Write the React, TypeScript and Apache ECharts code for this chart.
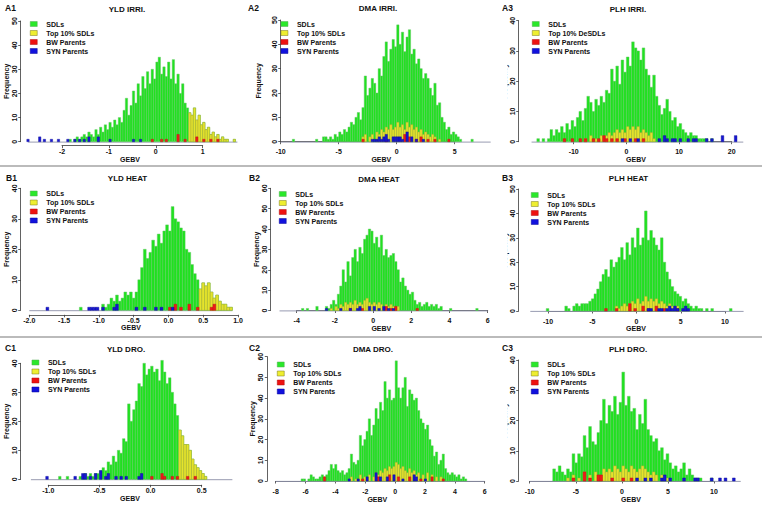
import React, { useEffect, useRef } from "react";
import * as echarts from "echarts";

// ---------------- DATA ----------------
// A1 YLD IRRI.
const a1Start = -2.75;
const a1Bin = 0.05;
const a1Sdl = [0,0,0,0,0,0,0,0,0,0, 0,0,0,0,0,0,0,0,1,0, 1,2,1,2,3,2,4,3,2,5, 3,6,4,7,5,8,6,9,7,10, 8,13,18,11,15,21,16,24,19,27, 22,29,24,30,26,33,35,28,31,27, 33,26,34,24,28,20,24,16,14,12, 11,14,9,11,7,8,5,6,3,4, 2,3,1,2,1,1,0,0,1];
const a1Top = [[0.7,12],[0.75,11],[0.8,14],[0.85,9],[0.9,11],[0.95,7],[1.0,8],[1.05,5],[1.1,6],[1.15,3],[1.2,4],[1.25,2],[1.3,3],[1.35,1],[1.4,2],[1.45,1],[1.5,1],[1.65,1]];
const a1Bw = [[-0.1,1],[0.1,1],[0.2,1],[0.45,3],[0.6,1],[0.85,2],[1.0,1],[1.15,1],[1.3,1]];
const a1Syn = [[-2.75,1],[-2.5,2],[-2.4,1],[-2.25,1],[-2.1,1],[-1.9,1],[-1.75,1],[-1.65,1],[-1.55,1],[-1.45,2],[-1.25,2],[-1.0,1],[-0.5,1],[-0.35,1]];
const a1Ticks = [-2, -1, 0, 1];

// A2 DMA IRRI.
const a2Start = -9.0;
const a2Bin = 0.2;
const a2Sdl = [1,0,0,0,0,0,0,0,0,0, 1,0,0,2,2,1,2,1,3,2, 4,3,5,4,6,8,7,10,12,9, 14,27,19,22,26,24,20,30,27,35, 41,33,38,42,39,48,40,45,37,43, 46,36,38,32,34,30,26,28,26,22, 19,24,15,16,10,8,5,6,3,4, 3,2,1,0,0,0,0,1];
const a2Top = [[-3.0,2],[-2.8,3],[-2.4,2],[-2.2,3],[-1.8,4],[-1.6,3],[-1.4,5],[-1.2,4],[-1.0,6],[-0.8,5],[-0.6,7],[-0.4,5],[-0.2,6],[0.0,8],[0.2,6],[0.4,7],[0.6,5],[0.8,8],[1.0,6],[1.2,7],[1.4,5],[1.6,6],[1.8,4],[2.0,5],[2.2,3],[2.4,4],[2.6,3],[2.8,2],[3.0,3],[3.2,2],[3.6,1]];
const a2Bw = [[-3.0,1],[-1.0,1],[0.6,3],[1.0,2],[1.6,1],[2.0,2],[2.6,1],[3.2,1],[4.4,1]];
const a2Syn = [[-2.2,1],[-2.0,1],[-1.8,1],[-1.6,2],[-1.4,1],[-1.2,2],[-1.0,3],[-0.8,1],[-0.4,2],[-0.2,2],[0.0,2],[0.2,2],[0.4,1],[0.8,4],[1.2,2],[1.6,1],[2.2,1]];
const a2Ticks = [-10, -5, 0, 5];

// A3 PLH IRRI.
const a3Start = -17.5;
const a3Bin = 0.5;
const a3Sdl = [0,1,0,1,0,1,4,2,4,3, 5,3,6,4,7,5,8,10,7,11, 15,13,10,14,12,15,13,17,16,24, 20,25,19,27,23,28,25,33,31,30, 27,31,24,22,18,22,15,12,9,11, 14,10,7,8,5,6,4,3,2,3, 2,2,1,1,1,1,0,1];
const a3Top = [[-8.0,1],[-7.0,2],[-6.0,1],[-5.0,2],[-4.0,2],[-3.5,3],[-3.0,2],[-2.5,3],[-2.0,4],[-1.5,3],[-1.0,4],[-0.5,3],[0.0,5],[0.5,4],[1.0,5],[1.5,4],[2.0,5],[2.5,3],[3.0,4],[3.5,3],[4.0,2],[4.5,3],[5.0,1]];
const a3Bw = [[-12.0,1],[-10.5,1],[-9.0,1],[-8.0,1],[-6.5,1],[-5.5,1],[-4.5,2],[-4.0,1],[-3.0,1],[-2.0,1],[-0.5,1],[1.5,1],[3.0,1]];
const a3Syn = [[-1.0,1],[0.5,1],[2.0,1],[6.0,1],[7.0,2],[7.5,1],[8.5,1],[9.0,1],[10.0,1],[11.5,1],[12.5,1],[13.0,1],[15.0,1],[16.0,1],[18.0,2],[20.5,2]];
const a3Ticks = [-10, 0, 10, 20];

// B1 YLD HEAT
const b1Start = -1.8;
const b1Bin = 0.04;
const b1Sdl = [0,0,0,0,0,0,0,0,0,0, 0,0,0,1,0,0,0,0,0,0, 0,2,1,2,4,3,5,3,4,6, 5,6,4,6,10,14,20,17,19,23, 21,25,22,26,28,26,34,30,29,27, 26,20,19,15,12,10,7,9,8,9, 6,4,5,3,2,2,1,1];
const b1Top = [[0.44,7],[0.48,9],[0.52,8],[0.56,9],[0.6,6],[0.64,4],[0.68,5],[0.72,3],[0.76,2],[0.8,2],[0.84,1],[0.88,1]];
const b1Bw = [[0.0,1],[0.08,2],[0.16,1],[0.28,2],[0.4,1],[0.6,1],[0.64,2]];
const b1Syn = [[-1.76,1],[-1.16,1],[-1.12,1],[-1.08,1],[-1.04,1],[-0.96,1],[-0.8,1],[-0.76,2],[-0.48,1],[-0.36,1],[-0.2,1],[-0.12,1],[0.04,1]];
const b1Ticks = [-2.0, -1.5, -1.0, -0.5, 0.0, 0.5, 1.0];

// B2 DMA HEAT
const b2Start = -3.75;
const b2Bin = 0.125;
const b2Sdl = [1,0,1,0,0,0,2,0,0,0, 2,1,3,5,3,8,12,20,14,24, 17,26,30,24,31,28,35,37,40,39, 33,36,31,37,27,30,26,27,28,24, 20,14,16,12,10,8,9,5,3,4, 2,3,4,2,3,2,3,1,2,0, 0,0,1,0,0,0,0,0,0,0, 0,0,0,1];
const b2Top = [[-2.25,1],[-2.0,2],[-1.875,1],[-1.75,3],[-1.625,2],[-1.5,4],[-1.375,3],[-1.25,4],[-1.125,3],[-1.0,5],[-0.875,3],[-0.75,4],[-0.625,3],[-0.5,5],[-0.375,6],[-0.25,4],[-0.125,3],[0.0,4],[0.125,3],[0.25,4],[0.375,3],[0.5,2],[0.625,3],[0.75,2],[0.875,3],[1.0,2],[1.125,1],[1.25,2]];
const b2Bw = [[-1.25,1],[-0.625,1],[0.625,2],[0.875,1],[1.125,2],[2.25,1]];
const b2Syn = [[-2.5,1],[-1.75,1],[-1.25,1],[-0.875,1],[-0.75,2],[-0.25,2],[0.0,2],[0.25,1],[0.5,2],[0.75,1],[1.0,1]];
const b2Ticks = [-4, -2, 0, 2, 4, 6];

// B3 PLH HEAT
const b3Start = -10.2;
const b3Bin = 0.3;
const b3Sdl = [1,0,0,0,0,0,0,2,1,0, 2,3,2,3,3,3,4,5,7,9, 12,15,17,14,21,18,20,22,26,21, 28,23,30,26,34,27,30,41,29,33, 30,27,25,30,20,16,13,10,8,7, 6,4,5,3,2,1,2,1,1,0, 1,0,1,0,0,0,0,0,0,1];
const b3Top = [[-2.4,2],[-2.1,1],[-1.8,2],[-1.5,3],[-1.2,2],[-0.9,3],[-0.6,4],[-0.3,3],[0.0,5],[0.3,3],[0.6,4],[0.9,6],[1.2,4],[1.5,5],[1.8,4],[2.1,5],[2.4,3],[2.7,4],[3.0,3],[3.3,2],[3.6,3],[3.9,2],[4.2,1],[4.5,2]];
const b3Bw = [[-3.6,1],[-2.4,1],[-0.9,3],[-0.3,1],[0.6,2],[1.2,1],[2.1,2],[3.0,1],[4.5,1]];
const b3Syn = [[1.2,1],[1.5,1],[2.4,1],[2.7,1],[3.3,1],[3.6,2],[3.9,1],[4.2,2],[4.5,1],[5.1,1],[5.4,2],[5.7,1]];
const b3Ticks = [-10, -5, 0, 5, 10];

// C1 YLD DRO.
const c1Start = -1.05;
const c1Bin = 0.025;
const c1Sdl = [0,0,0,0,0,0,1,0,0,1, 0,0,0,0,1,1,2,1,2,1, 2,2,3,4,3,6,5,8,6,10, 9,14,13,26,20,24,27,33,32,40, 36,38,39,37,38,34,41,37,33,35, 30,26,22,17,15,12,12,10,7,5, 4,3,2,1];
const c1Top = [[0.275,17],[0.3,15],[0.325,12],[0.35,12],[0.375,10],[0.4,7],[0.425,5],[0.45,4],[0.475,3],[0.5,2],[0.525,1]];
const c1Bw = [[0.0,1],[0.1,2],[0.125,1],[0.2,1],[0.25,1],[0.35,1],[0.425,1]];
const c1Syn = [[-1.025,1],[-0.75,1],[-0.675,2],[-0.65,2],[-0.6,1],[-0.55,2],[-0.5,3],[-0.45,1],[-0.425,2],[-0.35,1],[-0.3,1],[-0.25,1],[-0.125,1],[-0.1,2]];
const c1Ticks = [-1.0, -0.5, 0.0, 0.5];

// C2 DMA DRO.
const c2Start = -6.3;
const c2Bin = 0.15;
const c2Sdl = [1,1,0,1,3,2,1,1,2,3, 2,3,5,8,6,8,5,4,5,3, 4,6,13,9,8,10,22,17,20,24, 30,22,27,35,30,38,34,48,40,44, 39,40,58,45,40,45,50,36,44,42, 39,40,34,30,28,25,27,20,17,12, 14,8,10,13,6,4,3,4,3,2, 3,1,2,1];
const c2Top = [[-3.0,2],[-2.7,1],[-2.4,3],[-2.1,2],[-1.8,3],[-1.5,2],[-1.35,4],[-1.2,3],[-1.05,5],[-0.9,4],[-0.75,6],[-0.6,5],[-0.45,7],[-0.3,6],[-0.15,7],[0.0,9],[0.15,8],[0.3,6],[0.45,7],[0.6,5],[0.75,4],[0.9,6],[1.05,4],[1.2,5],[1.35,3],[1.5,4],[1.8,3],[2.1,4],[2.4,3],[2.7,2],[3.0,2]];
const c2Bw = [[-4.8,2],[-2.25,1],[-1.2,2],[-0.45,3],[0.15,2],[0.9,2],[1.65,1],[2.4,2],[3.15,1]];
const c2Syn = [[-3.15,1],[-2.55,1],[-1.95,2],[-1.35,4],[-1.05,2],[-0.6,2],[-0.15,3],[0.45,1],[1.2,3],[1.35,2],[1.95,1]];
const c2Ticks = [-8, -6, -4, -2, 0, 2, 4, 6];

// C3 PLH DRO.
const c3Start = -7.5;
const c3Bin = 0.3;
const c3Sdl = [4,3,5,3,2,4,3,9,6,9, 8,15,11,18,13,12,16,20,27,19, 25,23,28,22,26,36,25,28,23,24, 17,22,19,27,17,15,13,14,10,11, 7,9,6,4,5,3,4,6,2,4, 2,1,1,1,0,0,0,1];
const c3Top = [[-6.0,1],[-5.4,2],[-4.8,1],[-4.2,3],[-3.6,2],[-3.0,3],[-2.4,2],[-2.1,4],[-1.8,3],[-1.5,4],[-1.2,3],[-0.9,5],[-0.6,4],[-0.3,3],[0.0,5],[0.3,4],[0.6,3],[0.9,5],[1.2,4],[1.5,3],[1.8,4],[2.1,5],[2.4,4],[2.7,3],[3.0,2],[3.3,3],[3.6,2],[4.2,2],[4.8,1]];
const c3Bw = [[-5.4,1],[-4.2,3],[-3.6,1],[-2.7,2],[-2.4,2],[-1.2,1],[0.0,1],[0.9,1]];
const c3Syn = [[1.5,1],[2.4,1],[3.0,1],[4.2,1],[4.5,2],[5.1,1],[6.6,1],[7.8,1],[8.1,1],[9.6,1],[10.5,1],[11.1,1],[12.0,1]];
const c3Ticks = [-10, -5, 0, 5, 10];

const yMaxes = [50, 50, 40, 40, 60, 50, 40, 60, 40];
const titles = ["YLD IRRI.", "DMA IRRI.", "PLH IRRI.", "YLD HEAT", "DMA HEAT", "PLH HEAT", "YLD DRO.", "DMA DRO.", "PLH DRO."];
const panelLabels = ["A1", "A2", "A3", "B1", "B2", "B3", "C1", "C2", "C3"];
const legendNames = ["SDLs", "Top 10% SDLs", "BW Parents", "SYN Parents"];
const legendNamesA3 = ["SDLs", "Top 10% DeSDLs", "BW Parents", "SYN Parents"];

const panels = [
  { start: a1Start, bin: a1Bin, sdl: a1Sdl, top: a1Top, bw: a1Bw, syn: a1Syn, ticks: a1Ticks, dec: 0 },
  { start: a2Start, bin: a2Bin, sdl: a2Sdl, top: a2Top, bw: a2Bw, syn: a2Syn, ticks: a2Ticks, dec: 0 },
  { start: a3Start, bin: a3Bin, sdl: a3Sdl, top: a3Top, bw: a3Bw, syn: a3Syn, ticks: a3Ticks, dec: 0 },
  { start: b1Start, bin: b1Bin, sdl: b1Sdl, top: b1Top, bw: b1Bw, syn: b1Syn, ticks: b1Ticks, dec: 1 },
  { start: b2Start, bin: b2Bin, sdl: b2Sdl, top: b2Top, bw: b2Bw, syn: b2Syn, ticks: b2Ticks, dec: 0 },
  { start: b3Start, bin: b3Bin, sdl: b3Sdl, top: b3Top, bw: b3Bw, syn: b3Syn, ticks: b3Ticks, dec: 0 },
  { start: c1Start, bin: c1Bin, sdl: c1Sdl, top: c1Top, bw: c1Bw, syn: c1Syn, ticks: c1Ticks, dec: 1 },
  { start: c2Start, bin: c2Bin, sdl: c2Sdl, top: c2Top, bw: c2Bw, syn: c2Syn, ticks: c2Ticks, dec: 0 },
  { start: c3Start, bin: c3Bin, sdl: c3Sdl, top: c3Top, bw: c3Bw, syn: c3Syn, ticks: c3Ticks, dec: 0 },
];

// ---------------- LAYOUT (pixels) ----------------
const layouts = [
  { left: 20.7, right: 239.3, y0: 141.7, yTop: 21, t0: 62, t1: 202.7, off: 4, lbl: 6, freqX: 6.7, gebvY: 160, base: [-2.72, 1.74], legL: 30, legT: 20, titleX: 127, titleY: 9, labX: 5, labY: 8 },
  { left: 280.7, right: 482, y0: 141.7, yTop: 20, t0: 280.7, t1: 454.7, off: 0, lbl: 9.5, freqX: 258, gebvY: 160, base: [-10, 8.1], legL: 280.7, legT: 20, titleX: 378, titleY: 8.5, labX: 248, labY: 8 },
  { left: 518.7, right: 753.3, y0: 141.7, yTop: 20.7, t0: 573.7, t1: 731.7, off: 0, lbl: 9.5, freqX: 509, gebvY: 160, base: [-18, 22.2], legL: 532, legT: 20, titleX: 628, titleY: 9.5, labX: 502, labY: 8 },
  { left: 20.7, right: 241.3, y0: 310.3, yTop: 188.3, t0: 29.3, t1: 238, off: 4.5, lbl: 5.5, freqX: 6.7, gebvY: 328.3, base: [-2.0, 0.92], legL: 30, legT: 189.5, titleX: 127.5, titleY: 178.3, labX: 6, labY: 178 },
  { left: 270.7, right: 492, y0: 310.5, yTop: 188.3, t0: 296.7, t1: 487.7, off: 0, lbl: 9.5, freqX: 256.7, gebvY: 329, base: [-4.9, 6], legL: 279, legT: 190, titleX: 379, titleY: 179, labX: 249, labY: 178 },
  { left: 518.7, right: 753.3, y0: 311, yTop: 189, t0: 548, t1: 725, off: 0, lbl: 10, freqX: 509, gebvY: 329, base: [-12, 12.1], legL: 531, legT: 191, titleX: 628.5, titleY: 178.5, labX: 502, labY: 178 },
  { left: 20.7, right: 239.3, y0: 479.3, yTop: 363.3, t0: 48.3, t1: 201.7, off: 5.5, lbl: 5.5, freqX: 7.3, gebvY: 499, base: [-1.17, 0.8], legL: 31.7, legT: 358.5, titleX: 126, titleY: 349, labX: 5, labY: 348 },
  { left: 267.3, right: 487.3, y0: 481, yTop: 356.7, t0: 275.7, t1: 484.7, off: 0, lbl: 10, freqX: 255.7, gebvY: 500, base: [-8, 6], legL: 277, legT: 360.5, titleX: 373, titleY: 349, labX: 249, labY: 348 },
  { left: 518.7, right: 743.3, y0: 481, yTop: 360, t0: 529.7, t1: 714, off: 0, lbl: 10, freqX: 509, gebvY: 500, base: [-10, 12.9], legL: 531, legT: 360.5, titleX: 628, titleY: 349, labX: 502, labY: 348 },
];

const FONT = '"Liberation Sans", Arial, Helvetica, sans-serif';
const COL = {
  sdl: { fill: "#1fe21f", stroke: "#64c464" },
  top: { fill: "#e4e42c", stroke: "#a5a53a" },
  bw: { fill: "#ee1a1a", stroke: "#c41414" },
  syn: { fill: "#1616d2", stroke: "#10109a" },
};

function rectRender(bin: number, fill: string, stroke: string) {
  return (params: any, api: any) => {
    const x = api.value(0);
    const h = api.value(1);
    if (!h) return null;
    const a = api.coord([x, 0]);
    const b = api.coord([x + bin, h]);
    return {
      type: "rect",
      shape: { x: a[0], y: b[1], width: Math.max(b[0] - a[0], 0.6), height: a[1] - b[1] },
      style: { fill, stroke, lineWidth: 0.45 },
    };
  };
}

function buildOption() {
  const grid: any[] = [];
  const xAxis: any[] = [];
  const yAxis: any[] = [];
  const series: any[] = [];
  const legend: any[] = [];
  const graphic: any[] = [];

  panels.forEach((p, i) => {
    const L = layouts[i];
    const tFirst = p.ticks[0];
    const tLast = p.ticks[p.ticks.length - 1];
    const k = (L.t1 - L.t0) / (tLast - tFirst);
    const xMin = tFirst + (L.left - L.t0) / k;
    const xMax = tFirst + (L.right - L.t0) / k;
    const gMain = 2 * i;
    const gTick = 2 * i + 1;
    const yMax = yMaxes[i];
    const topName = i === 2 ? legendNamesA3[1] : legendNames[1];

    grid.push({ left: L.left, top: L.yTop, width: L.right - L.left, height: L.y0 - L.yTop });
    grid.push({ left: L.t0, top: L.y0 + L.off - 10, width: L.t1 - L.t0, height: 10 });

    xAxis.push({
      gridIndex: gMain, type: "value", min: xMin, max: xMax, position: "bottom",
      axisLine: { show: false, onZero: false }, axisTick: { show: false }, axisLabel: { show: false }, splitLine: { show: false },
      name: "GEBV", nameLocation: "middle", nameGap: L.gebvY - L.y0 - 4,
      nameTextStyle: { fontSize: 7, fontWeight: "bold", color: "#111", fontFamily: FONT },
    });
    xAxis.push({
      gridIndex: gTick, type: "value", min: tFirst, max: tLast, interval: p.ticks[1] - p.ticks[0], position: "bottom",
      axisLine: { show: true, onZero: false, lineStyle: { color: "#3a3a3a", width: 0.8 } },
      axisTick: { show: true, length: 2.5, lineStyle: { color: "#3a3a3a", width: 0.8 } },
      axisLabel: {
        show: true, margin: L.lbl - 3.5, fontSize: 7, fontWeight: "bold", color: "#111", fontFamily: FONT,
        showMinLabel: true, showMaxLabel: true, hideOverlap: false,
        formatter: (v: number) => Number(v).toFixed(p.dec),
      },
      splitLine: { show: false },
    });

    yAxis.push({
      gridIndex: gMain, type: "value", min: 0, max: yMax, interval: 10, position: "left",
      axisLine: { show: true, onZero: false, lineStyle: { color: "#3a3a3a", width: 0.8 } },
      axisTick: { show: true, length: 2.5, lineStyle: { color: "#3a3a3a", width: 0.8 } },
      axisLabel: { rotate: 90, margin: 3, fontSize: 7, fontWeight: "bold", color: "#111", fontFamily: FONT },
      splitLine: { show: false },
      name: "Frequency", nameLocation: "middle", nameRotate: 90, nameGap: L.left - L.freqX - 4,
      nameTextStyle: { fontSize: 7, fontWeight: "bold", color: "#111", fontFamily: FONT },
    });
    yAxis.push({ gridIndex: gTick, type: "value", show: false, min: 0, max: 1, axisLine: { show: false, onZero: false }, splitLine: { show: false } });

    // baseline at frequency 0 spanning the histogram breaks
    series.push({
      type: "custom", xAxisIndex: gMain, yAxisIndex: gMain, silent: true, z: 1,
      data: [[L.base[0], L.base[1]]],
      encode: { x: [0, 1] },
      renderItem: (params: any, api: any) => {
        const a = api.coord([api.value(0), 0]);
        const b = api.coord([api.value(1), 0]);
        return { type: "line", shape: { x1: a[0], y1: a[1] + 0.4, x2: b[0], y2: b[1] + 0.4 }, style: { stroke: "#8c90a8", lineWidth: 0.9 } };
      },
    });

    const sdlData = p.sdl.map((c, j) => [p.start + j * p.bin, c]);
    const layers: [string, any[], { fill: string; stroke: string }][] = [
      ["SDLs", sdlData, COL.sdl],
      [topName, p.top, COL.top],
      ["BW Parents", p.bw, COL.bw],
      ["SYN Parents", p.syn, COL.syn],
    ];
    layers.forEach(([name, data, c]) => {
      series.push({
        type: "custom", name, xAxisIndex: gMain, yAxisIndex: gMain, silent: true,
        data, encode: { x: 0, y: 1 },
        itemStyle: { color: c.fill, borderColor: c.stroke, borderWidth: 0.5 },
        renderItem: rectRender(p.bin, c.fill, c.stroke),
      });
    });

    legend.push({
      orient: "vertical", left: L.legL, top: L.legT, itemWidth: 7, itemHeight: 5, itemGap: 1,
      icon: "rect", selectedMode: false, padding: 0,
      data: [
        { name: "SDLs", itemStyle: { color: "#2ae82a", borderColor: "#55aa55", borderWidth: 0.5 } },
        { name: topName, itemStyle: { color: "#eeee30", borderColor: "#777720", borderWidth: 0.5 } },
        { name: "BW Parents", itemStyle: { color: "#ee1111", borderColor: "#aa1111", borderWidth: 0.5 } },
        { name: "SYN Parents", itemStyle: { color: "#1111dd", borderColor: "#0a0a99", borderWidth: 0.5 } },
      ],
      textStyle: { fontSize: 7, fontWeight: "bold", color: "#111", fontFamily: FONT, lineHeight: 8, padding: [0, 0, 0, 4] },
    });

    graphic.push({
      type: "text", x: L.titleX, y: L.titleY, z: 50,
      style: { text: titles[i], fill: "#111", font: `bold 8px ${FONT}`, textAlign: "center", textVerticalAlign: "middle", align: "center", verticalAlign: "middle" },
    });
    graphic.push({
      type: "text", x: L.labX, y: L.labY, z: 50,
      style: { text: panelLabels[i], fill: "#111", font: `bold 8.5px ${FONT}`, textAlign: "left", textVerticalAlign: "middle", align: "left", verticalAlign: "middle" },
    });
  });

  // white masks that crop the third column's axis titles like the source panels
  [[25, 115], [195, 110], [365, 110]].forEach(([y, h]) => {
    graphic.push({ type: "rect", shape: { x: 497, y, width: 10.5, height: h }, style: { fill: "#ffffff" }, z: 100 });
  });
  // separators between rows
  [166, 337].forEach((y) => {
    graphic.push({ type: "line", shape: { x1: 0, y1: y, x2: 762, y2: y }, style: { stroke: "#a4a4a4", lineWidth: 1.6 }, z: 60 });
  });

  return {
    animation: false,
    backgroundColor: "#ffffff",
    grid, xAxis, yAxis, series, legend, graphic,
  };
}

export default function App() {
  const ref = useRef<HTMLDivElement>(null);
  useEffect(() => {
    if (!ref.current) return;
    const chart = echarts.init(ref.current, null, { renderer: "svg" });
    chart.setOption(buildOption() as any);
    return () => chart.dispose();
  }, []);
  return (
    <div
      ref={ref}
      style={{ position: "absolute", left: 0, top: 0, width: 762, height: 505, background: "#ffffff" }}
    />
  );
}
